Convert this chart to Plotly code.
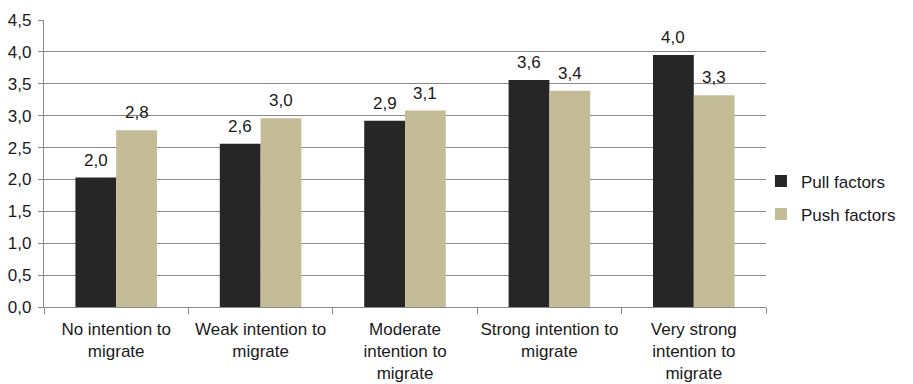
import plotly.graph_objects as go

categories = [
    "No intention to<br>migrate",
    "Weak intention to<br>migrate",
    "Moderate<br>intention to<br>migrate",
    "Strong intention to<br>migrate",
    "Very strong<br>intention to<br>migrate",
]
pull_factors = [2.03, 2.56, 2.92, 3.56, 3.95]
push_factors = [2.77, 2.96, 3.08, 3.39, 3.32]
y_ticks = [0, 0.5, 1.0, 1.5, 2.0, 2.5, 3.0, 3.5, 4.0, 4.5]

FONT = "Liberation Sans, Arial, sans-serif"
TEXT_COLOR = "#1a1a1a"
GRID_COLOR = "#8a8a8a"
FS = 17

fig = go.Figure()
fig.add_trace(go.Bar(
    name="Pull factors", x=categories, y=pull_factors, legendgroup="pull",
    marker=dict(color="#262626", line=dict(width=0)),
))
fig.add_trace(go.Bar(
    name="Push factors", x=categories, y=push_factors, legendgroup="push",
    marker=dict(color="#C4BC96", line=dict(width=0)),
))

# value labels above each bar, offset to the centre of its bar within the group
bar_px = 40.8
for series, shift in ((pull_factors, -bar_px / 2), (push_factors, bar_px / 2)):
    for cat, val in zip(categories, series):
        fig.add_annotation(
            x=cat, y=val, xref="x", yref="y",
            text=f"{val:.1f}".replace(".", ","),
            showarrow=False, xanchor="center", yanchor="bottom",
            xshift=shift, yshift=6,
            font=dict(size=FS, family=FONT, color=TEXT_COLOR),
        )

fig.update_layout(
    width=913, height=384,
    margin=dict(l=44, r=147, t=20, b=77, autoexpand=False),
    paper_bgcolor="white", plot_bgcolor="white",
    separators=",.",
    barmode="group", bargap=0.435, bargroupgap=0,
    font=dict(family=FONT, size=FS, color=TEXT_COLOR),
    legend=dict(
        x=0.993, y=0.38, xanchor="left", yanchor="middle",
        font=dict(size=FS, family=FONT, color=TEXT_COLOR),
        tracegroupgap=8, itemwidth=30,
        bgcolor="rgba(0,0,0,0)",
    ),
    showlegend=True,
)

fig.update_yaxes(
    range=[0, 4.5], tickvals=y_ticks, tickformat=".1f",
    showgrid=True, gridcolor=GRID_COLOR, gridwidth=1.4,
    showline=True, linecolor=GRID_COLOR, linewidth=1.4,
    ticks="outside", ticklen=5, tickcolor=GRID_COLOR, tickwidth=1.4,
    ticklabelstandoff=3,
    tickfont=dict(size=FS, family=FONT, color=TEXT_COLOR),
    zeroline=False,
)
fig.update_xaxes(
    showline=True, linecolor=GRID_COLOR, linewidth=1.4,
    ticks="outside", ticklen=6, tickcolor=GRID_COLOR, tickwidth=1.4,
    tickson="boundaries", ticklabelstandoff=6, tickangle=0,
    tickfont=dict(size=FS, family=FONT, color=TEXT_COLOR),
    showgrid=False,
)

fig.write_html("out.html")
